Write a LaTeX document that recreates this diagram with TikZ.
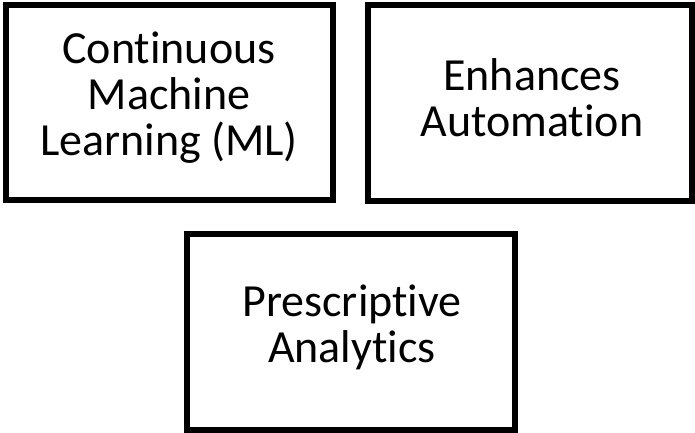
\documentclass[tikz,border=0pt]{standalone}
\usepackage{fontspec}
\setmainfont[Ligatures=CommonOff]{Carlito}
\begin{document}
\begin{tikzpicture}[x=1pt,y=-1pt,
  boxnode/.style={draw=black, line width=6pt, rectangle, inner sep=0pt},
  label/.style={align=center, inner sep=0pt, font=\fontsize{46}{46}\selectfont}]
\useasboundingbox (0,0) rectangle (695,432);
\node[boxnode, minimum width=327pt, minimum height=195pt] (cml) at (169.5,102.5) {};
\node[label] (cmlt) at (169,98) {Continuous\\Machine\\Learning (ML)};
\node[boxnode, minimum width=324pt, minimum height=196pt] (ea) at (530,103) {};
\node[label] (eat) at (532,98) {Enhances\\Automation};
\node[boxnode, minimum width=328pt, minimum height=196pt] (pa) at (351,332) {};
\node[label] (pat) at (352,327) {Prescriptive\\Analytics};
\end{tikzpicture}
\end{document}
